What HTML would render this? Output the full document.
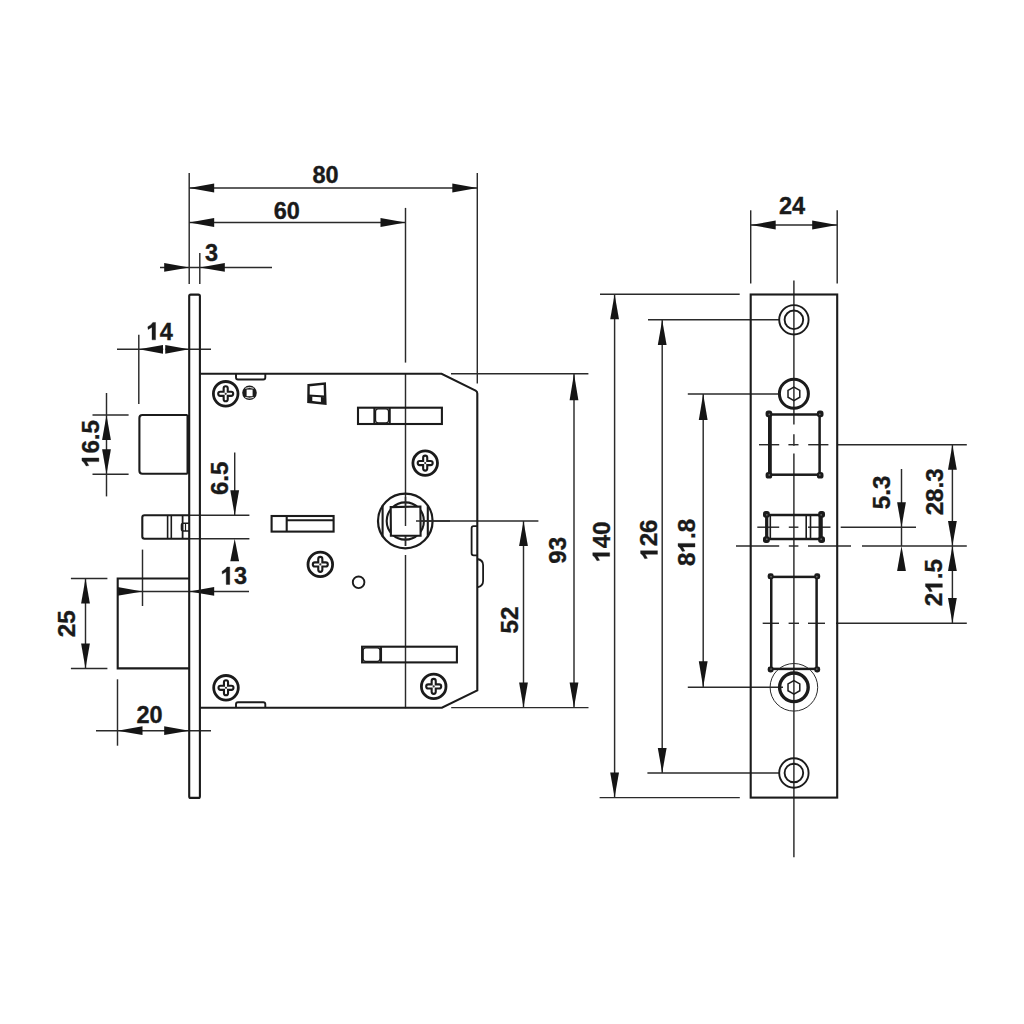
<!DOCTYPE html>
<html><head><meta charset="utf-8"><style>
html,body{margin:0;padding:0;background:#fff;}
svg{display:block;}
.g{fill:#1a1a1a;stroke:#1a1a1a;stroke-width:0.35px;}
.t{font-family:"Liberation Sans",sans-serif;font-weight:bold;font-size:23.5px;fill:#1a1a1a;stroke:#1a1a1a;stroke-width:0.35px;}
</style></head><body>
<svg width="1024" height="1024" viewBox="0 0 1024 1024">
<rect width="1024" height="1024" fill="#fff"/>
<line x1="189.2" y1="173" x2="189.2" y2="284" stroke="#2a2a2a" stroke-width="1.45"/>
<line x1="477.3" y1="173" x2="477.3" y2="383.5" stroke="#2a2a2a" stroke-width="1.45"/>
<line x1="199.8" y1="253" x2="199.8" y2="284" stroke="#2a2a2a" stroke-width="1.45"/>
<line x1="189.2" y1="188" x2="477.3" y2="188" stroke="#2a2a2a" stroke-width="1.45"/>
<path d="M189.20,188.00L214.20,183.60L214.20,192.40Z" fill="#151515"/>
<path d="M477.30,188.00L452.30,192.40L452.30,183.60Z" fill="#151515"/>
<g transform="translate(325.5,183.27) scale(1,1.05)"><text x="-13.07" y="0" class="t">8</text><text x="0.00" y="0" class="t">0</text></g>
<line x1="189.2" y1="222.5" x2="405.5" y2="222.5" stroke="#2a2a2a" stroke-width="1.45"/>
<path d="M189.20,222.50L214.20,218.10L214.20,226.90Z" fill="#151515"/>
<path d="M405.50,222.50L380.50,226.90L380.50,218.10Z" fill="#151515"/>
<g transform="translate(286.7,219.07) scale(1,1.05)"><text x="-13.07" y="0" class="t">6</text><text x="0.00" y="0" class="t">0</text></g>
<line x1="160" y1="267.4" x2="272" y2="267.4" stroke="#2a2a2a" stroke-width="1.45"/>
<path d="M189.20,267.40L164.20,271.80L164.20,263.00Z" fill="#151515"/>
<path d="M199.80,267.40L224.80,263.00L224.80,271.80Z" fill="#151515"/>
<g transform="translate(211.5,261.47) scale(1,1.05)"><text x="-6.53" y="0" class="t">3</text></g>
<line x1="117" y1="349.3" x2="211" y2="349.3" stroke="#2a2a2a" stroke-width="1.45"/>
<path d="M139.00,349.30L163.00,344.90L163.00,353.70Z" fill="#151515"/>
<path d="M189.00,349.30L165.20,353.70L165.20,344.90Z" fill="#151515"/>
<rect x="163.2" y="344" width="1.9" height="10" fill="#fff"/>
<line x1="138.8" y1="334.7" x2="138.8" y2="404" stroke="#2a2a2a" stroke-width="1.45"/>
<g transform="translate(159.8,339.87) scale(1,1.05)"><path d="M-7.78,0 V-12.10 L-11.66,-9.87 L-12.01,-12.46 Q-7.90,-14.57 -6.96,-16.59 H-4.25 V0 Z" class="g"/><text x="0.00" y="0" class="t">4</text></g>
<line x1="106.5" y1="393" x2="106.5" y2="496.4" stroke="#2a2a2a" stroke-width="1.45"/>
<path d="M106.50,415.00L110.90,440.00L102.10,440.00Z" fill="#151515"/>
<path d="M106.50,474.20L102.10,449.20L110.90,449.20Z" fill="#151515"/>
<line x1="92.5" y1="415" x2="128.6" y2="415" stroke="#2a2a2a" stroke-width="1.45"/>
<line x1="92.5" y1="474.2" x2="128.6" y2="474.2" stroke="#2a2a2a" stroke-width="1.45"/>
<g transform="translate(98.87,443.5) rotate(-90) scale(1.03,1.02)"><path d="M-17.58,0 V-12.10 L-21.46,-9.87 L-21.81,-12.46 Q-17.70,-14.57 -16.76,-16.59 H-14.05 V0 Z" class="g"/><text x="-9.80" y="0" class="t">6</text><text x="3.27" y="0" class="t">.</text><text x="9.80" y="0" class="t">5</text></g>
<line x1="234.7" y1="452.5" x2="234.7" y2="515.3" stroke="#2a2a2a" stroke-width="1.45"/>
<path d="M234.70,515.30L230.30,490.30L239.10,490.30Z" fill="#151515"/>
<path d="M234.70,538.70L239.10,561.20L230.30,561.20Z" fill="#151515"/>
<line x1="189" y1="515.3" x2="249.4" y2="515.3" stroke="#2a2a2a" stroke-width="1.45"/>
<line x1="189" y1="538.7" x2="249.4" y2="538.7" stroke="#2a2a2a" stroke-width="1.45"/>
<g transform="translate(227.87,478.3) rotate(-90) scale(1.03,1.02)"><text x="-16.33" y="0" class="t">6</text><text x="-3.27" y="0" class="t">.</text><text x="3.27" y="0" class="t">5</text></g>
<line x1="117.7" y1="591.4" x2="249" y2="591.4" stroke="#2a2a2a" stroke-width="1.45"/>
<path d="M142.50,591.40L117.50,595.80L117.50,587.00Z" fill="#151515"/>
<path d="M189.20,591.40L214.20,587.00L214.20,595.80Z" fill="#151515"/>
<line x1="142.5" y1="549.6" x2="142.5" y2="606" stroke="#2a2a2a" stroke-width="1.45"/>
<g transform="translate(234,584.47) scale(1,1.05)"><path d="M-7.78,0 V-12.10 L-11.66,-9.87 L-12.01,-12.46 Q-7.90,-14.57 -6.96,-16.59 H-4.25 V0 Z" class="g"/><text x="0.00" y="0" class="t">3</text></g>
<line x1="85.5" y1="578.5" x2="85.5" y2="668.4" stroke="#2a2a2a" stroke-width="1.45"/>
<path d="M85.50,578.50L89.90,603.50L81.10,603.50Z" fill="#151515"/>
<path d="M85.50,668.40L81.10,643.40L89.90,643.40Z" fill="#151515"/>
<line x1="70.9" y1="578.5" x2="107.4" y2="578.5" stroke="#2a2a2a" stroke-width="1.45"/>
<line x1="70.9" y1="668.4" x2="107.4" y2="668.4" stroke="#2a2a2a" stroke-width="1.45"/>
<g transform="translate(74.87,623.8) rotate(-90) scale(1.03,1.02)"><text x="-13.07" y="0" class="t">2</text><text x="0.00" y="0" class="t">5</text></g>
<line x1="96" y1="730.7" x2="211" y2="730.7" stroke="#2a2a2a" stroke-width="1.45"/>
<path d="M117.50,730.70L142.50,726.30L142.50,735.10Z" fill="#151515"/>
<path d="M189.20,730.70L164.20,735.10L164.20,726.30Z" fill="#151515"/>
<line x1="117.5" y1="679.3" x2="117.5" y2="745.7" stroke="#2a2a2a" stroke-width="1.45"/>
<g transform="translate(149.6,723.07) scale(1,1.05)"><text x="-13.07" y="0" class="t">2</text><text x="0.00" y="0" class="t">0</text></g>
<line x1="574" y1="373.75" x2="574" y2="707.6" stroke="#2a2a2a" stroke-width="1.45"/>
<path d="M574.00,373.75L578.40,400.25L569.60,400.25Z" fill="#151515"/>
<path d="M574.00,707.60L569.60,682.60L578.40,682.60Z" fill="#151515"/>
<line x1="451" y1="373.75" x2="588.4" y2="373.75" stroke="#2a2a2a" stroke-width="1.45"/>
<line x1="451.2" y1="707.6" x2="588.5" y2="707.6" stroke="#2a2a2a" stroke-width="1.45"/>
<g transform="translate(566.37,550.2) rotate(-90) scale(1.03,1.02)"><text x="-13.07" y="0" class="t">9</text><text x="0.00" y="0" class="t">3</text></g>
<line x1="523.5" y1="521" x2="523.5" y2="707.6" stroke="#2a2a2a" stroke-width="1.45"/>
<path d="M523.50,521.00L527.90,546.00L519.10,546.00Z" fill="#151515"/>
<path d="M523.50,707.60L519.10,682.60L527.90,682.60Z" fill="#151515"/>
<line x1="416" y1="521" x2="538.4" y2="521" stroke="#2a2a2a" stroke-width="1.45"/>
<g transform="translate(518.37,620.1) rotate(-90) scale(1.03,1.02)"><text x="-13.07" y="0" class="t">5</text><text x="0.00" y="0" class="t">2</text></g>
<line x1="405.5" y1="207.9" x2="405.5" y2="362.6" stroke="#2a2a2a" stroke-width="1.45"/>
<line x1="405.5" y1="373" x2="405.5" y2="526" stroke="#2a2a2a" stroke-width="1.45"/>
<line x1="405.5" y1="536" x2="405.5" y2="546" stroke="#2a2a2a" stroke-width="1.45"/>
<line x1="405.5" y1="555" x2="405.5" y2="708.2" stroke="#2a2a2a" stroke-width="1.45"/>
<rect x="189.2" y="294.6" width="10.70" height="503.30" rx="1.5" stroke="#1b1b1b" stroke-width="2.1" fill="none"/>
<path d="M187.6,415 H142.4 Q139.4,415 139.4,418 V470.8 Q139.4,473.8 142.4,473.8 H187.6" stroke="#1b1b1b" stroke-width="2.1" fill="none" />
<line x1="188.0" y1="415" x2="188.0" y2="473.8" stroke="#1b1b1b" stroke-width="3"/>
<path d="M189.2,515.3 H144.5 Q142.3,515.3 142.3,517.5 V536.5 Q142.3,538.7 144.5,538.7 H189.2" stroke="#1b1b1b" stroke-width="2.1" fill="none" />
<line x1="167.6" y1="515.3" x2="167.6" y2="538.7" stroke="#1b1b1b" stroke-width="1.6"/>
<line x1="171.3" y1="515.3" x2="171.3" y2="538.7" stroke="#1b1b1b" stroke-width="1.6"/>
<line x1="182.6" y1="515.3" x2="182.6" y2="538.7" stroke="#1b1b1b" stroke-width="1.8"/>
<path d="M189,523.3 H183.5 Q181.5,523.3 181.5,525.3 V529 Q181.5,531 183.5,531 H189" stroke="#1b1b1b" stroke-width="1.6" fill="none" />
<line x1="185.5" y1="523.3" x2="185.5" y2="531" stroke="#1b1b1b" stroke-width="1.2"/>
<path d="M189.2,578.5 H117.7 V668.4 H189.2" stroke="#1b1b1b" stroke-width="2.1" fill="none" />
<path d="M199.9,373.75 H441.6 L475.6,390.6 Q477.3,391.5 477.3,393.4 V690.4 L441.9,707.8 H199.9" stroke="#1b1b1b" stroke-width="2.1" fill="none" />
<path d="M236,374 V377.5 Q236,379.5 238,379.5 H263.3 Q265.3,379.5 265.3,377.5 V374" stroke="#1b1b1b" stroke-width="1.9" fill="none" />
<path d="M236,707.8 V704.3 Q236,702.3 238,702.3 H263.3 Q265.3,702.3 265.3,704.3 V707.8" stroke="#1b1b1b" stroke-width="1.9" fill="none" />
<path d="M477.3,526.2 H473.6 Q471.6,526.2 471.6,528.2 V553.3 Q471.6,555.3 473.6,555.3 H477.3" stroke="#1b1b1b" stroke-width="1.8" fill="none" />
<path d="M477.3,559 Q483.1,560 483.1,565 V581 Q483.1,586 477.3,587.3" stroke="#1b1b1b" stroke-width="1.8" fill="none" />
<circle cx="225.7" cy="393.8" r="12.3" stroke="#1b1b1b" stroke-width="2.8" fill="none"/>
<path d="M223.64999999999998,391.75 V388.35 A2.05,2.05 0 0 1 227.75,388.35 V391.75 H231.14999999999998 A2.05,2.05 0 0 1 231.14999999999998,395.85 H227.75 V399.25 A2.05,2.05 0 0 1 223.64999999999998,399.25 V395.85 H220.25 A2.05,2.05 0 0 1 220.25,391.75 Z" stroke="#1b1b1b" stroke-width="2.1" fill="none" />
<circle cx="225.7" cy="393.8" r="1.1" fill="#333"/>
<circle cx="425.2" cy="463.1" r="12.3" stroke="#1b1b1b" stroke-width="2.8" fill="none"/>
<path d="M423.15,461.05 V457.65000000000003 A2.05,2.05 0 0 1 427.25,457.65000000000003 V461.05 H430.65 A2.05,2.05 0 0 1 430.65,465.15000000000003 H427.25 V468.55 A2.05,2.05 0 0 1 423.15,468.55 V465.15000000000003 H419.75 A2.05,2.05 0 0 1 419.75,461.05 Z" stroke="#1b1b1b" stroke-width="2.1" fill="none" />
<circle cx="425.2" cy="463.1" r="1.1" fill="#333"/>
<circle cx="320.3" cy="564.4" r="12.3" stroke="#1b1b1b" stroke-width="2.8" fill="none"/>
<path d="M318.25,562.35 V558.9499999999999 A2.05,2.05 0 0 1 322.35,558.9499999999999 V562.35 H325.75 A2.05,2.05 0 0 1 325.75,566.4499999999999 H322.35 V569.85 A2.05,2.05 0 0 1 318.25,569.85 V566.4499999999999 H314.85 A2.05,2.05 0 0 1 314.85,562.35 Z" stroke="#1b1b1b" stroke-width="2.1" fill="none" />
<circle cx="320.3" cy="564.4" r="1.1" fill="#333"/>
<circle cx="226" cy="687.8" r="12.3" stroke="#1b1b1b" stroke-width="2.8" fill="none"/>
<path d="M223.95,685.75 V682.3499999999999 A2.05,2.05 0 0 1 228.05,682.3499999999999 V685.75 H231.45 A2.05,2.05 0 0 1 231.45,689.8499999999999 H228.05 V693.25 A2.05,2.05 0 0 1 223.95,693.25 V689.8499999999999 H220.55 A2.05,2.05 0 0 1 220.55,685.75 Z" stroke="#1b1b1b" stroke-width="2.1" fill="none" />
<circle cx="226" cy="687.8" r="1.1" fill="#333"/>
<circle cx="433.7" cy="686.4" r="12.3" stroke="#1b1b1b" stroke-width="2.8" fill="none"/>
<path d="M431.65,684.35 V680.9499999999999 A2.05,2.05 0 0 1 435.75,680.9499999999999 V684.35 H439.15 A2.05,2.05 0 0 1 439.15,688.4499999999999 H435.75 V691.85 A2.05,2.05 0 0 1 431.65,691.85 V688.4499999999999 H428.25 A2.05,2.05 0 0 1 428.25,684.35 Z" stroke="#1b1b1b" stroke-width="2.1" fill="none" />
<circle cx="433.7" cy="686.4" r="1.1" fill="#333"/>
<circle cx="249.5" cy="392.8" r="7.3" stroke="#1b1b1b" stroke-width="0" fill="#1b1b1b"/>
<rect x="246.6" y="389.6" width="6" height="6.6" fill="#fff"/>
<path d="M245.3,388.3 Q249.5,386.6 253.7,388.3" stroke="#fff" stroke-width="0.9" fill="none"/>
<path d="M245.3,397.4 Q249.5,399 253.7,397.4" stroke="#fff" stroke-width="0.9" fill="none"/>
<path d="M308.6,385.2 L324.8,383.6 L325.4,403.6 L308.4,401.8 Z" stroke="#1b1b1b" stroke-width="2.4" fill="none" />
<path d="M308.5,395.5 L324.8,396.5" stroke="#1b1b1b" stroke-width="2.2" fill="none" />
<path d="M308.4,396 L312.3,396.3 L312.3,401.7 L308.3,401.5 Z M320.9,397 L325,397.2 L325.2,403.6 L320.9,403.2 Z M312.3,401.5 L320.9,402.8 L320.9,403.5 L312.3,402.3Z" fill="#1b1b1b"/>
<rect x="358" y="407.7" width="83.90" height="16.30" rx="0" stroke="#1b1b1b" stroke-width="2.1" fill="none"/>
<line x1="374.4" y1="407.7" x2="374.4" y2="424" stroke="#1b1b1b" stroke-width="2.1"/>
<line x1="389.7" y1="407.7" x2="389.7" y2="424" stroke="#1b1b1b" stroke-width="2.1"/>
<rect x="375.6" y="408.9" width="12.90" height="13.90" rx="2.5" stroke="#1b1b1b" stroke-width="1.2" fill="none"/>
<rect x="271.6" y="516" width="62.00" height="15.60" rx="0" stroke="#1b1b1b" stroke-width="2.1" fill="none"/>
<line x1="286.7" y1="516" x2="286.7" y2="531.6" stroke="#1b1b1b" stroke-width="2.1"/>
<line x1="286.7" y1="520.3" x2="333.6" y2="520.3" stroke="#1b1b1b" stroke-width="2.0"/>
<rect x="362.1" y="646.7" width="94.80" height="15.70" rx="0" stroke="#1b1b1b" stroke-width="2.1" fill="none"/>
<line x1="381" y1="646.7" x2="381" y2="662.4" stroke="#1b1b1b" stroke-width="2.1"/>
<rect x="363.2" y="647.8" width="16.70" height="13.50" rx="2.5" stroke="#1b1b1b" stroke-width="1.2" fill="none"/>
<circle cx="358.6" cy="582.3" r="5.8" stroke="#1b1b1b" stroke-width="1.9" fill="none"/>
<circle cx="405.3" cy="521" r="27.3" stroke="#1b1b1b" stroke-width="2.2" fill="none"/>
<line x1="382.6" y1="505.5" x2="382.6" y2="536.5" stroke="#1b1b1b" stroke-width="2.1"/>
<line x1="427.8" y1="505.5" x2="427.8" y2="536.5" stroke="#1b1b1b" stroke-width="2.1"/>
<circle cx="405.3" cy="521" r="18.6" stroke="#1b1b1b" stroke-width="2.1" fill="none"/>
<path d="M390.7,507.1 L420.4,506.5 L420.6,535.6 L390.9,535.8 Z" stroke="#1b1b1b" stroke-width="2.1" fill="#fff"/>
<line x1="405.5" y1="497" x2="405.5" y2="526" stroke="#2a2a2a" stroke-width="1.45"/>
<line x1="405.5" y1="536" x2="405.5" y2="546" stroke="#2a2a2a" stroke-width="1.45"/>
<line x1="416" y1="521" x2="450" y2="521" stroke="#2a2a2a" stroke-width="1.45"/>
<line x1="750.7" y1="210.3" x2="750.7" y2="283.5" stroke="#2a2a2a" stroke-width="1.45"/>
<line x1="837.2" y1="210.3" x2="837.2" y2="283.5" stroke="#2a2a2a" stroke-width="1.45"/>
<line x1="750.7" y1="225" x2="837.2" y2="225" stroke="#2a2a2a" stroke-width="1.45"/>
<path d="M750.70,225.00L775.70,220.60L775.70,229.40Z" fill="#151515"/>
<path d="M837.20,225.00L812.20,229.40L812.20,220.60Z" fill="#151515"/>
<g transform="translate(792.1,214.47) scale(1,1.05)"><text x="-13.07" y="0" class="t">2</text><text x="0.00" y="0" class="t">4</text></g>
<line x1="614.6" y1="294.3" x2="614.6" y2="797.6" stroke="#2a2a2a" stroke-width="1.45"/>
<path d="M614.60,294.30L619.00,319.30L610.20,319.30Z" fill="#151515"/>
<path d="M614.60,797.60L610.20,772.60L619.00,772.60Z" fill="#151515"/>
<line x1="600" y1="294.3" x2="739.7" y2="294.3" stroke="#2a2a2a" stroke-width="1.45"/>
<line x1="599.6" y1="797.6" x2="739.8" y2="797.6" stroke="#2a2a2a" stroke-width="1.45"/>
<g transform="translate(609.67,541.6) rotate(-90) scale(1.03,1.02)"><path d="M-14.31,0 V-12.10 L-18.19,-9.87 L-18.54,-12.46 Q-14.43,-14.57 -13.49,-16.59 H-10.79 V0 Z" class="g"/><text x="-6.53" y="0" class="t">4</text><text x="6.53" y="0" class="t">0</text></g>
<line x1="662.2" y1="320" x2="662.2" y2="773" stroke="#2a2a2a" stroke-width="1.45"/>
<path d="M662.20,320.00L666.60,345.00L657.80,345.00Z" fill="#151515"/>
<path d="M662.20,773.00L657.80,748.00L666.60,748.00Z" fill="#151515"/>
<line x1="648" y1="319.8" x2="779.5" y2="319.8" stroke="#2a2a2a" stroke-width="1.45"/>
<line x1="647.4" y1="773" x2="779.5" y2="773" stroke="#2a2a2a" stroke-width="1.45"/>
<g transform="translate(657.47,539.6) rotate(-90) scale(1.03,1.02)"><path d="M-14.31,0 V-12.10 L-18.19,-9.87 L-18.54,-12.46 Q-14.43,-14.57 -13.49,-16.59 H-10.79 V0 Z" class="g"/><text x="-6.53" y="0" class="t">2</text><text x="6.53" y="0" class="t">6</text></g>
<line x1="703.2" y1="394" x2="703.2" y2="687.3" stroke="#2a2a2a" stroke-width="1.45"/>
<path d="M703.20,394.00L707.60,420.00L698.80,420.00Z" fill="#151515"/>
<path d="M703.20,687.30L698.80,661.30L707.60,661.30Z" fill="#151515"/>
<line x1="687.8" y1="394" x2="779.5" y2="394" stroke="#2a2a2a" stroke-width="1.45"/>
<line x1="687.8" y1="687.3" x2="783" y2="687.3" stroke="#2a2a2a" stroke-width="1.45"/>
<g transform="translate(694.97,542.4) rotate(-90) scale(1.03,1.02)"><text x="-22.87" y="0" class="t">8</text><path d="M-4.51,0 V-12.10 L-8.39,-9.87 L-8.74,-12.46 Q-4.63,-14.57 -3.69,-16.59 H-0.99 V0 Z" class="g"/><text x="3.27" y="0" class="t">.</text><text x="9.80" y="0" class="t">8</text></g>
<line x1="952.4" y1="444.7" x2="952.4" y2="623" stroke="#2a2a2a" stroke-width="1.45"/>
<path d="M952.40,444.70L956.80,469.70L948.00,469.70Z" fill="#151515"/>
<path d="M952.40,546.00L948.00,521.00L956.80,521.00Z" fill="#151515"/>
<path d="M952.40,546.00L956.80,571.00L948.00,571.00Z" fill="#151515"/>
<path d="M952.40,623.00L948.00,598.00L956.80,598.00Z" fill="#151515"/>
<line x1="838" y1="444.7" x2="966.8" y2="444.7" stroke="#2a2a2a" stroke-width="1.45"/>
<line x1="862" y1="546" x2="966.8" y2="546" stroke="#2a2a2a" stroke-width="1.45"/>
<line x1="836" y1="623.2" x2="966.8" y2="623.2" stroke="#2a2a2a" stroke-width="1.45"/>
<g transform="translate(943.07,491.8) rotate(-90) scale(1.03,1.02)"><text x="-22.87" y="0" class="t">2</text><text x="-9.80" y="0" class="t">8</text><text x="3.27" y="0" class="t">.</text><text x="9.80" y="0" class="t">3</text></g>
<g transform="translate(942.37,582.7) rotate(-90) scale(1.03,1.02)"><text x="-22.87" y="0" class="t">2</text><path d="M-4.51,0 V-12.10 L-8.39,-9.87 L-8.74,-12.46 Q-4.63,-14.57 -3.69,-16.59 H-0.99 V0 Z" class="g"/><text x="3.27" y="0" class="t">.</text><text x="9.80" y="0" class="t">5</text></g>
<line x1="901.5" y1="469" x2="901.5" y2="546" stroke="#2a2a2a" stroke-width="1.45"/>
<path d="M901.50,527.20L897.10,502.20L905.90,502.20Z" fill="#151515"/>
<path d="M901.50,546.00L905.90,571.00L897.10,571.00Z" fill="#151515"/>
<line x1="840.7" y1="527.2" x2="916" y2="527.2" stroke="#2a2a2a" stroke-width="1.45"/>
<g transform="translate(889.97,492.4) rotate(-90) scale(1.03,1.02)"><text x="-16.33" y="0" class="t">5</text><text x="-3.27" y="0" class="t">.</text><text x="3.27" y="0" class="t">3</text></g>
<line x1="793.9" y1="280.6" x2="793.9" y2="424.6" stroke="#2a2a2a" stroke-width="1.45"/>
<line x1="793.9" y1="434.3" x2="793.9" y2="445.7" stroke="#2a2a2a" stroke-width="1.45"/>
<line x1="793.9" y1="453.6" x2="793.9" y2="857.2" stroke="#2a2a2a" stroke-width="1.45"/>
<line x1="759" y1="444.7" x2="779.2" y2="444.7" stroke="#2a2a2a" stroke-width="1.45"/>
<line x1="788.4" y1="444.7" x2="798.5" y2="444.7" stroke="#2a2a2a" stroke-width="1.45"/>
<line x1="808.2" y1="444.7" x2="828.4" y2="444.7" stroke="#2a2a2a" stroke-width="1.45"/>
<line x1="757.3" y1="527.2" x2="779.2" y2="527.2" stroke="#2a2a2a" stroke-width="1.45"/>
<line x1="788.8" y1="527.2" x2="798.4" y2="527.2" stroke="#2a2a2a" stroke-width="1.45"/>
<line x1="808" y1="527.2" x2="830.5" y2="527.2" stroke="#2a2a2a" stroke-width="1.45"/>
<line x1="736" y1="546" x2="779.2" y2="546" stroke="#2a2a2a" stroke-width="1.45"/>
<line x1="788.8" y1="546" x2="798.4" y2="546" stroke="#2a2a2a" stroke-width="1.45"/>
<line x1="808" y1="546" x2="851" y2="546" stroke="#2a2a2a" stroke-width="1.45"/>
<line x1="762.7" y1="623.3" x2="779" y2="623.3" stroke="#2a2a2a" stroke-width="1.45"/>
<line x1="788.6" y1="623.3" x2="799" y2="623.3" stroke="#2a2a2a" stroke-width="1.45"/>
<line x1="808" y1="623.3" x2="825" y2="623.3" stroke="#2a2a2a" stroke-width="1.45"/>
<rect x="750.7" y="294.5" width="86.50" height="503.10" rx="0" stroke="#1b1b1b" stroke-width="2.1" fill="none"/>
<circle cx="793.9" cy="319.8" r="14.7" stroke="#1b1b1b" stroke-width="1.9" fill="none"/>
<circle cx="793.9" cy="319.8" r="9.3" stroke="#1b1b1b" stroke-width="1.9" fill="none"/>
<circle cx="793.9" cy="773" r="14.7" stroke="#1b1b1b" stroke-width="1.9" fill="none"/>
<circle cx="793.9" cy="773" r="9.3" stroke="#1b1b1b" stroke-width="1.9" fill="none"/>
<circle cx="793.9" cy="393.8" r="14.5" stroke="#1b1b1b" stroke-width="3.0" fill="none"/>
<polygon points="793.90,400.60 788.01,397.20 788.01,390.40 793.90,387.00 799.79,390.40 799.79,397.20" stroke="#1b1b1b" stroke-width="1.5" fill="none"/>
<circle cx="793.9" cy="687.3" r="23.8" stroke="#2a2a2a" stroke-width="1.0" fill="none"/>
<circle cx="793.9" cy="687.3" r="14.3" stroke="#1b1b1b" stroke-width="3.4" fill="none"/>
<polygon points="793.90,694.10 788.01,690.70 788.01,683.90 793.90,680.50 799.79,683.90 799.79,690.70" stroke="#1b1b1b" stroke-width="1.5" fill="none"/>
<rect x="769.5" y="414.5" width="50.10" height="60.20" rx="0" stroke="#1b1b1b" stroke-width="2.5" fill="none"/>
<line x1="769.9" y1="414.5" x2="769.9" y2="474.7" stroke="#1b1b1b" stroke-width="3.8"/>
<rect x="765.60" y="410.60" width="6.60" height="6.60" rx="2.64" fill="#1b1b1b"/>
<circle cx="769.30" cy="414.30" r="0.9" fill="#666"/>
<rect x="816.90" y="410.60" width="6.60" height="6.60" rx="2.64" fill="#1b1b1b"/>
<circle cx="819.80" cy="414.30" r="0.9" fill="#666"/>
<rect x="765.60" y="472.00" width="6.60" height="6.60" rx="2.64" fill="#1b1b1b"/>
<circle cx="769.30" cy="474.90" r="0.9" fill="#666"/>
<rect x="816.90" y="472.00" width="6.60" height="6.60" rx="2.64" fill="#1b1b1b"/>
<circle cx="819.80" cy="474.90" r="0.9" fill="#666"/>
<rect x="767" y="515" width="54.00" height="24.00" rx="0" stroke="#1b1b1b" stroke-width="2.5" fill="none"/>
<line x1="766.6" y1="515" x2="766.6" y2="539" stroke="#1b1b1b" stroke-width="3.0"/>
<line x1="820.6" y1="515" x2="820.6" y2="539" stroke="#1b1b1b" stroke-width="4.2"/>
<line x1="770.3" y1="515" x2="770.3" y2="539" stroke="#1b1b1b" stroke-width="1.6"/>
<line x1="806.2" y1="515" x2="806.2" y2="539" stroke="#1b1b1b" stroke-width="1.6"/>
<line x1="810.5" y1="515" x2="810.5" y2="539" stroke="#1b1b1b" stroke-width="1.6"/>
<rect x="763.00" y="511.00" width="6.80" height="6.80" rx="2.72" fill="#1b1b1b"/>
<circle cx="766.80" cy="514.80" r="0.9" fill="#666"/>
<rect x="818.20" y="511.00" width="6.80" height="6.80" rx="2.72" fill="#1b1b1b"/>
<circle cx="821.20" cy="514.80" r="0.9" fill="#666"/>
<rect x="763.00" y="536.20" width="6.80" height="6.80" rx="2.72" fill="#1b1b1b"/>
<circle cx="766.80" cy="539.20" r="0.9" fill="#666"/>
<rect x="818.20" y="536.20" width="6.80" height="6.80" rx="2.72" fill="#1b1b1b"/>
<circle cx="821.20" cy="539.20" r="0.9" fill="#666"/>
<rect x="771.25" y="576.9" width="45.35" height="92.00" rx="0" stroke="#1b1b1b" stroke-width="2.5" fill="none"/>
<rect x="767.65" y="573.30" width="6.00" height="6.00" rx="2.40" fill="#1b1b1b"/>
<circle cx="771.05" cy="576.70" r="0.9" fill="#666"/>
<rect x="814.20" y="573.30" width="6.00" height="6.00" rx="2.40" fill="#1b1b1b"/>
<circle cx="816.80" cy="576.70" r="0.9" fill="#666"/>
<rect x="767.65" y="666.50" width="6.00" height="6.00" rx="2.40" fill="#1b1b1b"/>
<circle cx="771.05" cy="669.10" r="0.9" fill="#666"/>
<rect x="814.20" y="666.50" width="6.00" height="6.00" rx="2.40" fill="#1b1b1b"/>
<circle cx="816.80" cy="669.10" r="0.9" fill="#666"/>
</svg>
</body></html>
